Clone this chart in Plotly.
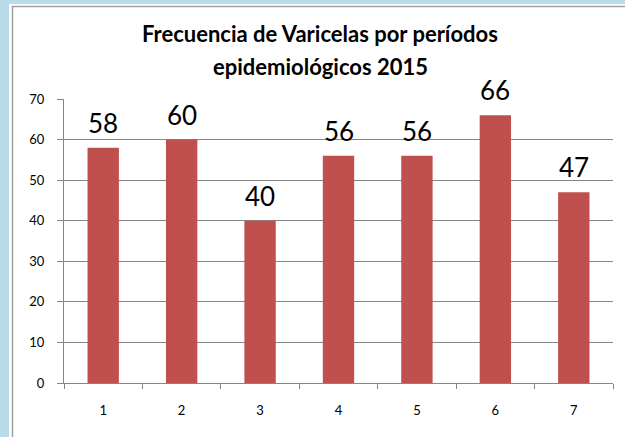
import plotly.graph_objects as go

periods = ["1", "2", "3", "4", "5", "6", "7"]
cases = [58, 60, 40, 56, 56, 66, 47]
title_lines = ["Frecuencia de Varicelas por períodos", "epidemiológicos 2015"]
y_ticks = [0, 10, 20, 30, 40, 50, 60, 70]

W, H = 625, 437
L, R, T, B = 64, 12, 99, 54
PW, PH = W - L - R, H - T - B

def px_x(p):
    return (p - L) / PW

def px_y(p):
    return (H - B - p) / PH

FONT = "Lato"
GRAY = "#868686"
BAR = "#C0504D"

fig = go.Figure()
fig.add_trace(go.Bar(x=periods, y=cases, marker=dict(color=BAR, line=dict(width=0)),
                     hoverinfo="skip"))

shapes = [
    dict(type="rect", xref="paper", yref="paper", x0=px_x(-2), x1=px_x(W + 2),
         y0=px_y(-2), y1=px_y(H + 2), fillcolor="#b8dde9", line=dict(width=0), layer="below"),
    dict(type="rect", xref="paper", yref="paper", x0=px_x(9), x1=px_x(W + 5),
         y0=px_y(4), y1=px_y(H + 5), fillcolor="white", line=dict(width=0), layer="below"),
    dict(type="rect", xref="paper", yref="paper", x0=px_x(12.5), x1=px_x(W + 5),
         y0=px_y(6.5), y1=px_y(H + 5), fillcolor="white",
         line=dict(color="#a0a0a0", width=1.5), layer="below"),
]

annotations = [
    dict(text=title_lines[0], xref="paper", yref="paper", x=px_x(320), y=px_y(33),
         xanchor="center", yanchor="middle", showarrow=False,
         font=dict(family=FONT, size=22, color="black", weight="bold")),
    dict(text=title_lines[1], xref="paper", yref="paper", x=px_x(320), y=px_y(66.5),
         xanchor="center", yanchor="middle", showarrow=False,
         font=dict(family=FONT, size=22, color="black", weight="bold")),
]
for i, v in enumerate(cases):
    annotations.append(dict(text=str(v), x=i, y=v, xref="x", yref="y",
                            xanchor="center", yanchor="bottom", yshift=7,
                            showarrow=False,
                            font=dict(family=FONT, size=26, color="black")))

fig.update_layout(
    width=W, height=H,
    margin=dict(l=L, r=R, t=T, b=B, pad=0),
    paper_bgcolor="white", plot_bgcolor="rgba(0,0,0,0)",
    bargap=0.6, showlegend=False,
    shapes=shapes, annotations=annotations,
    font=dict(family=FONT, color="black"),
)
fig.update_xaxes(type="category", tickson="boundaries", ticks="outside", ticklen=5,
                 tickcolor=GRAY, tickwidth=1, showline=True, linecolor=GRAY, linewidth=1,
                 showgrid=False, ticklabelstandoff=15, range=[-0.5, len(periods) - 0.5],
                 tickfont=dict(family=FONT, size=13, color="black"))
fig.update_yaxes(range=[0, 70], tickvals=y_ticks, ticks="outside", ticklen=6,
                 tickcolor=GRAY, tickwidth=1, showline=True, linecolor=GRAY, linewidth=1,
                 showgrid=True, gridcolor=GRAY, gridwidth=1, zeroline=False,
                 ticklabelstandoff=10,
                 tickfont=dict(family=FONT, size=13, color="black"))

fig.write_html("out.html", config={"displayModeBar": False},
               post_script="document.body.style.margin='0';document.body.style.overflow='hidden';")
